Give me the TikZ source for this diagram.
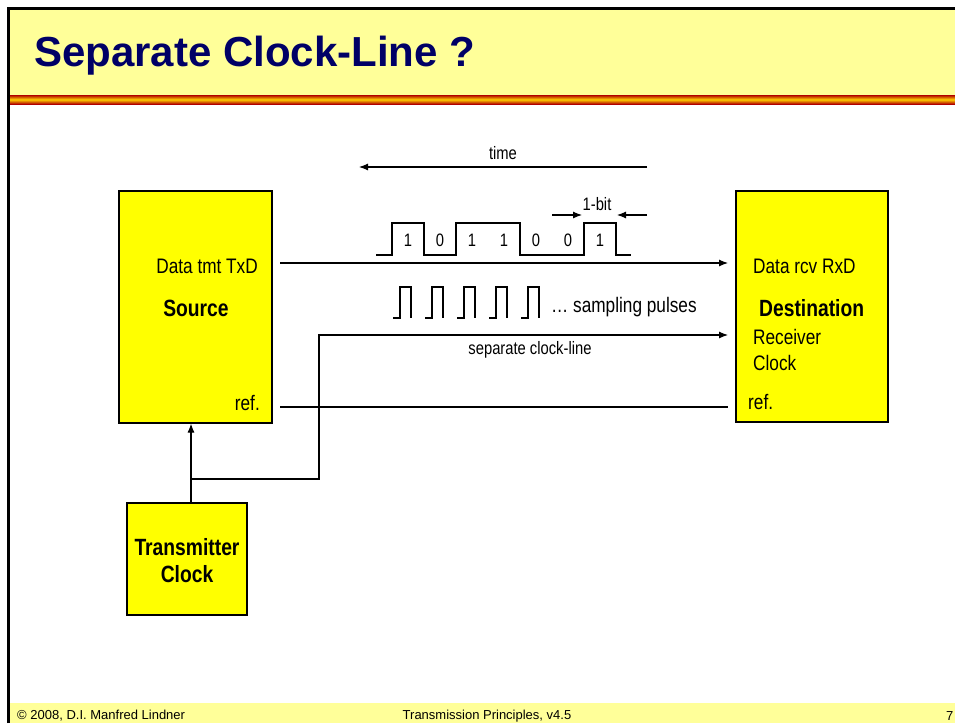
\documentclass[tikz,border=0pt]{standalone}
\usepackage{fontspec}
\setmainfont{Liberation Sans}
\newfontfamily\narrowsf[FakeStretch=0.82]{Liberation Sans}
\usetikzlibrary{arrows.meta}

\definecolor{boxyellow}{HTML}{FFFF00}
\definecolor{paleyellow}{HTML}{FFFF99}
\definecolor{titleblue}{HTML}{000066}
\definecolor{stripered}{HTML}{B00000}
\definecolor{stripemid}{HTML}{FFD000}

\begin{document}
\begin{tikzpicture}[x=1pt, y=-1pt,
    wire/.style={line width=1.1pt},
    sig/.style={line width=1.1pt, -{Latex[length=9pt,width=7pt]}},
    block/.style={rectangle, draw=black, line width=1.1pt, fill=boxyellow},
    lbl/.style={inner sep=0pt, font=\narrowsf\fontsize{21}{26}\selectfont},
    small/.style={inner sep=0pt, font=\narrowsf\fontsize{18}{20}\selectfont},
    big/.style={inner sep=0pt, font=\narrowsf\bfseries\fontsize{23.5}{27}\selectfont},
    foot/.style={inner sep=0pt, font=\fontsize{13}{15}\selectfont}]

    \useasboundingbox (0,0) rectangle (955,723);

    % slide frame
    \fill[paleyellow] (8,8) rectangle (955,95);
    \shade[top color=stripered, bottom color=stripered, middle color=stripemid] (8,95) rectangle (955,104);
    \fill[paleyellow] (8,703) rectangle (955,723);
    \draw[line width=3pt] (8.5,723) -- (8.5,8) -- (955,8);

    \node[anchor=base west, inner sep=0pt, text=titleblue,
    font=\bfseries\fontsize{42}{48}\selectfont] (title) at (34,66) {Separate Clock-Line ?};

    \node[foot, anchor=west] (copy) at (17,716) {© 2008, D.I. Manfred Lindner};
    \node[foot] (course) at (487,716) {Transmission Principles, v4.5};
    \node[foot, anchor=west] (page) at (946,716) {7};


    \node[block,
    minimum width = 153pt,
    minimum height = 232pt] (src) at (195.5,307) {};

    \node[block,
    minimum width = 152pt,
    minimum height = 231pt] (dst) at (812,306.5) {};

    \node[block,
    minimum width = 120pt,
    minimum height = 112pt] (txclk) at (187,559) {};


    \node[lbl, anchor=east] (txd) at (258,266) {Data tmt TxD};
    \node[big] (source) at (196,308) {Source};
    \node[lbl, anchor=east] (srcref) at (260,403) {ref.};

    \node[lbl, anchor=west] (rxd) at (753,266) {Data rcv RxD};
    \node[big, anchor=west] (dest) at (759,308) {Destination};
    \node[lbl, anchor=west, align=left] (rxclk) at (753,350) {Receiver\\Clock};
    \node[lbl, anchor=west] (dstref) at (748,402) {ref.};

    \node[big, align=center] (txclklbl) at (187,560.5) {Transmitter\\Clock};

    \node[small] (time) at (503,153) {time};
    \node[small] (bit) at (597,204) {1-bit};
    \node[lbl, anchor=west] (pulses) at (551,307) {… sampling pulses};
    \node[small] (clkline) at (530,350) {separate clock-line};


    \coordinate (txout) at (280,263);
    \coordinate (rxin) at (728,263);
    \coordinate (refout) at (280,407);
    \coordinate (tap) at (191,479);
    \coordinate (bend) at (319,335);
    \coordinate (tstart) at (647,167);
    \coordinate (tend) at (359,167);
    \coordinate (bl) at (552,215);
    \coordinate (br) at (647,215);

      \draw[sig] (txout) to (rxin);
      \draw[wire] (refout) to (refout -| rxin);
      \draw[sig] (tap |- txclk.north) to (tap |- src.south);
      \draw[sig] (tap) -| (bend) -- (bend -| rxin);

      \draw[sig] (tstart) to (tend);
      \draw[sig] (bl) to ++(30,0);
      \draw[sig] (br) to ++(-30,0);

      \draw[wire] (376,255) -- (392,255) -- (392,223) -- (424,223) -- (424,255)
      -- (456,255) -- (456,223) -- (520,223) -- (520,255) -- (584,255)
      -- (584,223) -- (616,223) -- (616,255) -- (631,255);

      \foreach \b [count=\i] in {1,0,1,1,0,0,1}
      \node[small] (bit\i) at (376+32*\i,240) {\b};

      \foreach \x in {393,425,457,489,521}
      \draw[wire] (\x,318) -- ++(7,0) -- ++(0,-31) -- ++(11,0) -- ++(0,31);
  \end{tikzpicture}
\end{document}
